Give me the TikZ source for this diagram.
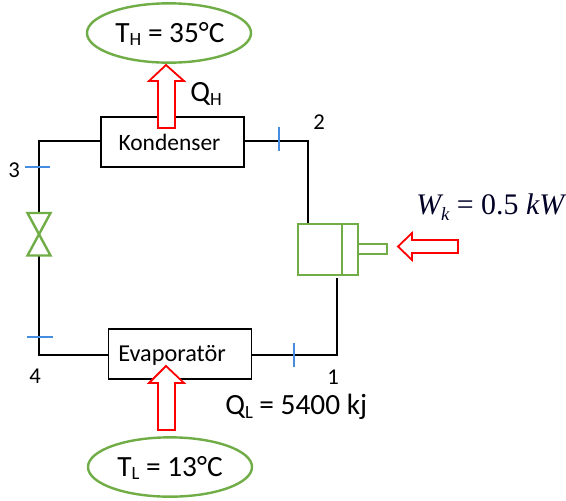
\documentclass[tikz,border=0pt]{standalone}
\usepackage{fontspec}
\setmainfont{Carlito}
\newfontfamily\mathserif{Liberation Serif}
\usetikzlibrary{shapes.geometric}
\definecolor{grn}{RGB}{112,173,71}
\definecolor{tick}{RGB}{70,140,225}
\newcommand{\subs}[1]{\raisebox{-0.12em}{\fontsize{14}{14}\selectfont #1}}
\tikzset{
  x=0.75pt,y=-0.75pt,
  pipe/.style={draw=black,line width=1.2pt},
  unitbox/.style={draw=black,line width=1.2pt,fill=white,minimum width=107.25pt,minimum height=37.5pt,inner sep=0pt},
  bath/.style={ellipse,draw=grn,line width=1.8pt,fill=white,minimum width=123pt,minimum height=44.5pt,inner sep=0pt},
  blockarrow/.style={draw=red,line width=1.35pt,fill=white,miter limit=10},
  tickmark/.style={draw=tick,line width=0.9pt},
  greenpart/.style={draw=grn,line width=1.8pt,fill=white},
  boxtext/.style={font=\fontsize{17.6}{20}\selectfont,inner sep=0pt},
  evaptext/.style={font=\fontsize{18.2}{20}\selectfont,inner sep=0pt},
  numlabel/.style={font=\fontsize{17}{20}\selectfont,inner sep=0pt},
  biglabel/.style={font=\fontsize{22}{24}\selectfont,inner sep=0pt},
}
\begin{document}
\begin{tikzpicture}
\useasboundingbox (0,0) rectangle (566,500);
% nodes
\node[unitbox] (kond) at (172.5,142) {};
\node[unitbox] (evap) at (180,354) {};
\node[boxtext] (kondt) at (169.5,142.5) {Kondenser};
\node[evaptext,anchor=west] (evapt) at (118,355) {Evaporatör};
\node[bath] (hot) at (169,33) {};
\node[bath] (cold) at (170,467) {};
\node[biglabel] (hott) at (170,34) {T\subs{H} = 35°C};
\node[biglabel] (coldt) at (170,468) {T\subs{L} = 13°C};
% corners
\coordinate (c3) at (39,141);
\coordinate (c2) at (308,141);
\coordinate (c4) at (39,355);
\coordinate (c1) at (337,355);
\coordinate (compTop) at (308,224);
\coordinate (compBot) at (337,278);
\coordinate (valTop) at (39,213);
\coordinate (valBot) at (39,256);
% pipes
\draw[pipe] (kond.west |- c3) -- (c3) -- (valTop);
\draw[pipe] (valBot) -- (c4) -- (evap.west |- c4);
\draw[pipe] (kond.east |- c2) -- (c2) -- (compTop);
\draw[pipe] (evap.east |- c1) -- (c1) -- (compBot);
% valve
\draw[greenpart,fill=none] (27.5,213) -- (50.5,213) -- (27.5,255.5) -- (50.5,255.5) -- cycle;
% compressor
\draw[greenpart] (298,224) rectangle (358,275);
\draw[greenpart,fill=none] (342,224) -- (342,275);
\draw[greenpart] (358,244) rectangle (387,254);
% ticks
\draw[tickmark] (279,127) -- (279,151);
\draw[tickmark] (25,167) -- (50,167);
\draw[tickmark] (27,337) -- (53,337);
\draw[tickmark] (294,343) -- (294,367);
% block arrows
\draw[blockarrow] (166,65) -- (184,81) -- (175,81) -- (175,128) -- (158,128) -- (158,81) -- (149,81) -- cycle;
\draw[blockarrow] (166,366) -- (184,383) -- (175,383) -- (175,430) -- (158,430) -- (158,383) -- (149,383) -- cycle;
\draw[blockarrow] (398,246.5) -- (412,233) -- (412,240) -- (458,240) -- (458,253) -- (412,253) -- (412,260) -- cycle;
% labels
\node[biglabel,anchor=west] (qh) at (190,94) {Q\subs{H}};
\node[biglabel,anchor=west] (ql) at (225,407) {Q\subs{L} = 5400 kj};
\node[numlabel] (n2) at (319,122) {2};
\node[numlabel] (n3) at (14,170) {3};
\node[numlabel] (n4) at (35,376) {4};
\node[numlabel] (n1) at (333,377) {1};
\node[inner sep=0pt,anchor=west,text=black!85!blue,font=\mathserif\fontsize{22.4}{24}\selectfont] (wk) at (416,207) {\textit{W\raisebox{-0.2em}{\fontsize{14}{14}\selectfont k}} = 0.5 \textit{kW}};
\end{tikzpicture}
\end{document}
